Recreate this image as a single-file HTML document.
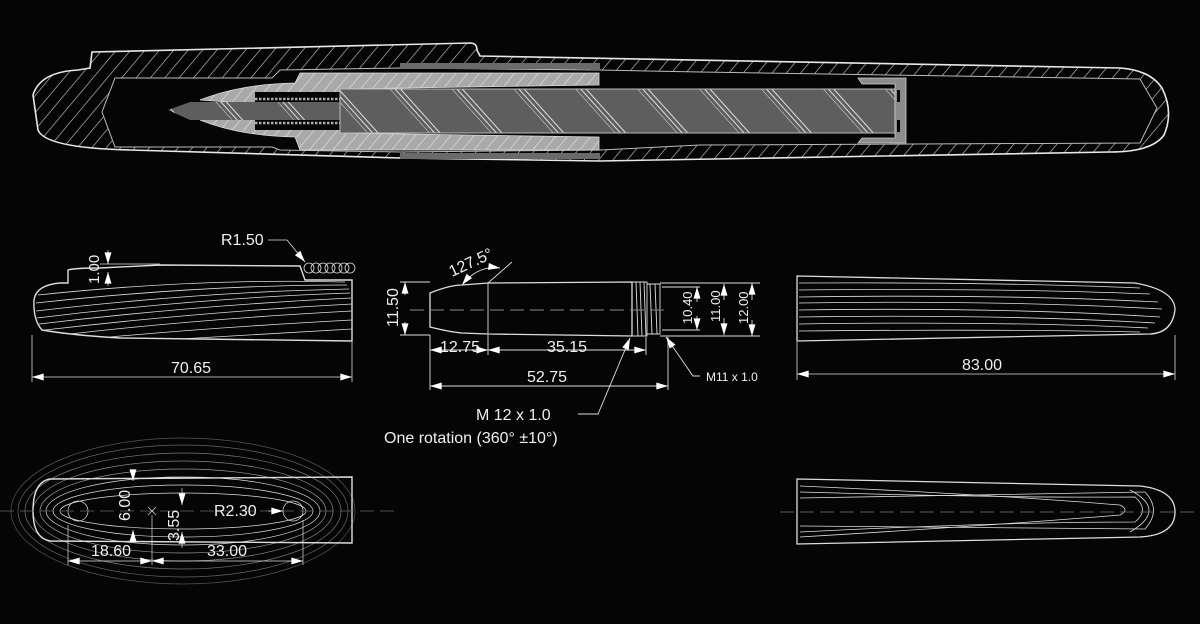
<!DOCTYPE html>
<html><head><meta charset="utf-8"><style>
html,body{margin:0;padding:0;background:#050505;}
svg{display:block}
text{font-family:"Liberation Sans",sans-serif;fill:#f0f0f0;}
</style></head><body>
<svg width="1200" height="624" viewBox="0 0 1200 624" xmlns="http://www.w3.org/2000/svg">
<defs>
<pattern id="hw" patternUnits="userSpaceOnUse" width="11" height="11" patternTransform="rotate(40)">
<rect width="11" height="11" fill="#050505"/><line x1="0" y1="0" x2="0" y2="11" stroke="#cfcfcf" stroke-width="1.2"/></pattern>
<pattern id="hg" patternUnits="userSpaceOnUse" width="9" height="9" patternTransform="rotate(40)">
<rect width="9" height="9" fill="#a9a9a9"/><line x1="0" y1="0" x2="0" y2="9" stroke="#dadada" stroke-width="1.5"/></pattern>
<pattern id="hc" patternUnits="userSpaceOnUse" width="46" height="46" patternTransform="rotate(-42)">
<rect width="46" height="46" fill="#5e5e5e"/><line x1="0" y1="0" x2="0" y2="46" stroke="#e0e0e0" stroke-width="1"/><line x1="4" y1="0" x2="4" y2="46" stroke="#e0e0e0" stroke-width="1"/><line x1="8" y1="0" x2="8" y2="46" stroke="#e0e0e0" stroke-width="1"/></pattern>
<marker id="a" viewBox="0 0 10 6" refX="10" refY="3" markerWidth="14" markerHeight="7" orient="auto-start-reverse" markerUnits="userSpaceOnUse"><path d="M0,0 L10,3 L0,6 Z" fill="#fff"/></marker>
</defs>

<!-- ===== TOP PEN SECTION ===== -->
<path d="M92,52 L470,43 Q477,43 477,50 L480,56 L1120,68 Q1150,70 1162,88 Q1174,112 1164,135 Q1152,152 1110,152 L600,161 L400,158 L130,150 Q45,148 38,130 L33,95 Q40,72 78,70 L90,68 Z" fill="url(#hw)" stroke="#e8e8e8" stroke-width="1.6"/>
<path d="M115,78 L272,78 L280,70 L400,68 L600,70 L700,72 L1140,79 L1157,108 L1140,143 L700,145 L600,150 L400,152 L280,150 L272,147 L115,147 L102,112 Z" fill="#050505" stroke="#bbb" stroke-width="1"/>
<rect x="400" y="63" width="200" height="6" fill="#6a6a6a"/>
<rect x="400" y="153" width="200" height="6" fill="#6a6a6a"/>
<path d="M200,100 Q240,84 295,83 L300,73 L599,73 L599,85 L340,89 L340,133 L599,137 L599,150 L300,150 L295,137 Q240,136 200,120 L255,116 L255,104 Z" fill="url(#hg)" stroke="#ddd" stroke-width="0.8"/>
<rect x="255" y="92" width="90" height="10" fill="#050505"/>
<rect x="255" y="120" width="90" height="10" fill="#050505"/>
<g fill="none" stroke="#aaa" stroke-width="0.8">
<line x1="255" y1="99" x2="345" y2="99" stroke-dasharray="2.5 1.5" stroke-width="2.5"/>
<line x1="255" y1="123" x2="345" y2="123" stroke-dasharray="2.5 1.5" stroke-width="2.5"/>
</g>
<path d="M168,110 L190,102 L345,102 L345,120 L190,120 Z" fill="url(#hc)"/>
<path d="M340,89 L895,89 L895,133 L340,133 Z" fill="url(#hc)" stroke="#bbb" stroke-width="1"/>
<path d="M858,78 L906,78 L906,143 L858,143 L862,138 L895,138 L895,84 L862,84 Z" fill="#8c8c8c" stroke="#ccc" stroke-width="0.8"/>
<rect x="897" y="90" width="3" height="12" fill="#050505"/><rect x="897" y="120" width="3" height="12" fill="#050505"/>

<!-- ===== GRIP SIDE VIEW ===== -->
<g fill="none" stroke="#ddd" stroke-width="0.8">
<path d="M68,270 Q75,268 100,268 L160,265 L300,266 L305,280 L352,280 L352,341 L120,338 Q70,335 42,330 Q33,320 34,300 Q36,285 60,283 L68,283 Z" stroke-width="1.4"/>
<path d="M38,295 Q200,278 345,282"/><path d="M36,303 Q200,285 347,285"/><path d="M36,311 Q200,292 349,289"/>
<path d="M37,318 Q200,298 350,293"/><path d="M39,324 Q200,305 351,298"/><path d="M45,330 Q200,312 352,304"/>
<path d="M70,334 Q200,319 352,311"/><path d="M110,337 Q220,327 352,320"/><path d="M180,339 Q260,334 352,329"/>
<circle cx="309" cy="268" r="5"/><circle cx="316" cy="268" r="5"/><circle cx="323" cy="268" r="5"/><circle cx="330" cy="268" r="5"/><circle cx="337" cy="268" r="5"/><circle cx="344" cy="268" r="5"/><circle cx="350" cy="268" r="5"/>
<line x1="32" y1="335" x2="32" y2="382"/><line x1="352" y1="342" x2="352" y2="382"/>
<line x1="32" y1="377" x2="352" y2="377" marker-start="url(#a)" marker-end="url(#a)"/>
<line x1="100" y1="264" x2="160" y2="264"/>
<polyline points="268,240 287,240 305,262" marker-end="url(#a)"/>
<line x1="108" y1="250" x2="108" y2="264" marker-end="url(#a)"/>
<line x1="108" y1="286" x2="108" y2="272" marker-end="url(#a)"/>
</g>
<text x="221" y="245" font-size="16">R1.50</text>
<text x="171" y="373" font-size="16">70.65</text>
<text transform="translate(99,284) rotate(-90)" font-size="15">1.00</text>

<!-- ===== FEED ===== -->
<g fill="none" stroke="#ddd" stroke-width="0.9">
<path d="M430,293 Q450,285 462,285 L488,283 L632,282 L632,336 L488,334 L462,333 Q450,332 430,327 Z" stroke-width="1.3"/>
<line x1="488" y1="283" x2="488" y2="334"/>
<path d="M632,282 L647,282 L647,336 L632,336"/><path d="M647,284 L660,284 L660,334 L647,334"/>
<line x1="636" y1="282" x2="638" y2="336"/><line x1="640" y1="282" x2="642" y2="336"/><line x1="644" y1="282" x2="646" y2="336"/>
<line x1="650" y1="284" x2="652" y2="334"/><line x1="655" y1="284" x2="657" y2="334"/>
<line x1="410" y1="310" x2="670" y2="310" stroke-dasharray="14 6" stroke="#888"/>
<line x1="400" y1="282" x2="430" y2="282"/><line x1="400" y1="335" x2="430" y2="335"/>
<line x1="405" y1="295" x2="405" y2="282" marker-end="url(#a)"/><line x1="405" y1="322" x2="405" y2="335" marker-end="url(#a)"/>
<line x1="430" y1="335" x2="430" y2="390"/><line x1="488" y1="335" x2="488" y2="355"/><line x1="646" y1="337" x2="646" y2="355"/><line x1="668" y1="337" x2="668" y2="390"/>
<line x1="430" y1="350" x2="488" y2="350" marker-start="url(#a)" marker-end="url(#a)"/>
<line x1="488" y1="350" x2="646" y2="350" marker-start="url(#a)" marker-end="url(#a)"/>
<line x1="430" y1="386" x2="668" y2="386" marker-start="url(#a)" marker-end="url(#a)"/>
<line x1="660" y1="283" x2="760" y2="283"/><line x1="660" y1="336" x2="760" y2="336"/>
<line x1="662" y1="287" x2="700" y2="287"/><line x1="662" y1="330" x2="700" y2="330"/>
<line x1="697" y1="302" x2="697" y2="287" marker-end="url(#a)"/><line x1="697" y1="316" x2="697" y2="330" marker-end="url(#a)"/>
<line x1="724" y1="300" x2="724" y2="284" marker-end="url(#a)"/><line x1="724" y1="318" x2="724" y2="335" marker-end="url(#a)"/>
<line x1="752" y1="300" x2="752" y2="283" marker-end="url(#a)"/><line x1="752" y1="320" x2="752" y2="336" marker-end="url(#a)"/>
<polyline points="700,376 693,376 666,337" marker-end="url(#a)"/>
<polyline points="578,414 598,414 630,338" marker-end="url(#a)"/>
<path d="M462,285 Q478,265 500,268" marker-start="url(#a)" marker-end="url(#a)"/>
<line x1="488" y1="283" x2="512" y2="262"/>
</g>
<text transform="translate(398,327) rotate(-90)" font-size="16">11.50</text>
<text x="440" y="352" font-size="16">12.75</text>
<text x="547" y="352" font-size="16">35.15</text>
<text x="527" y="382" font-size="16">52.75</text>
<text transform="translate(692,324) rotate(-90)" font-size="13">10.40</text>
<text transform="translate(720,322) rotate(-90)" font-size="13">11.00</text>
<text transform="translate(748,324) rotate(-90)" font-size="13">12.00</text>
<text x="706" y="381" font-size="12">M11 x 1.0</text>
<text x="476" y="420" font-size="16">M 12 x 1.0</text>
<text x="384" y="443" font-size="16">One rotation (360° ±10°)</text>
<text transform="translate(452,277) rotate(-25)" font-size="16">127.5°</text>

<!-- ===== RIGHT VIEWS ===== -->
<g fill="none" stroke="#ddd" stroke-width="0.8">
<path d="M797,276 L1135,283 Q1175,290 1175,310 Q1172,333 1150,334 L797,341 Z" stroke-width="1.3"/>
<path d="M799,283 Q1000,282 1140,288"/><path d="M799,290 Q1000,288 1150,294"/><path d="M799,297 Q1000,294 1158,302"/>
<path d="M799,303 Q1000,300 1162,309"/><path d="M799,310 Q1000,307 1160,317"/><path d="M799,317 Q1000,314 1155,323"/>
<path d="M799,324 Q1000,321 1148,328"/><path d="M799,331 Q1000,329 1140,332"/>
<line x1="797" y1="342" x2="797" y2="380"/><line x1="1175" y1="335" x2="1175" y2="380"/>
<line x1="797" y1="374" x2="1175" y2="374" marker-start="url(#a)" marker-end="url(#a)"/>
<path d="M797,479 L1140,486 Q1175,490 1175,512 Q1175,535 1140,537 L797,544 Z" stroke-width="1.3"/>
<path d="M800,486 Q1000,495 1120,505 Q1130,510 1120,515 Q1000,525 800,537"/>
<path d="M800,492 Q1000,498 1135,497 Q1150,510 1135,522 Q1000,522 800,532"/>
<path d="M800,498 Q1000,494 1145,492 Q1162,510 1145,529 Q1000,527 800,526"/>
<path d="M1130,490 Q1168,510 1130,532"/>
<line x1="780" y1="512" x2="1195" y2="512" stroke-dasharray="14 6" stroke="#777"/>
</g>
<text x="962" y="370" font-size="16">83.00</text>

<!-- ===== BOTTOM LEFT ===== -->
<g fill="none" stroke="#ddd" stroke-width="0.7">
<ellipse cx="183" cy="511" rx="172" ry="73" stroke="#555"/>
<ellipse cx="183" cy="511" rx="165" ry="66" stroke="#666"/>
<ellipse cx="183" cy="511" rx="158" ry="58" stroke="#777"/>
<ellipse cx="183" cy="511" rx="150" ry="50" stroke="#888"/>
<ellipse cx="183" cy="511" rx="143" ry="42" stroke="#999"/>
<ellipse cx="183" cy="511" rx="137" ry="34"/>
<ellipse cx="183" cy="511" rx="130" ry="26"/>
<ellipse cx="183" cy="511" rx="123" ry="18"/>
<path d="M50,479 L352,477 L352,543 L50,541 Q33,538 33,511 Q33,482 50,479 Z" stroke-width="1.4"/>
<circle cx="78" cy="511" r="10"/><circle cx="293" cy="511" r="10"/>
<line x1="0" y1="511" x2="395" y2="511" stroke="#666" stroke-dasharray="14 6"/>
<line x1="148" y1="507" x2="156" y2="515"/><line x1="156" y1="507" x2="148" y2="515"/>
<line x1="68" y1="525" x2="68" y2="565"/><line x1="152" y1="515" x2="152" y2="565"/><line x1="303" y1="520" x2="303" y2="565"/>
<line x1="68" y1="561" x2="152" y2="561" marker-start="url(#a)" marker-end="url(#a)"/>
<line x1="152" y1="561" x2="303" y2="561" marker-start="url(#a)" marker-end="url(#a)"/>
<line x1="133" y1="472" x2="133" y2="481" marker-end="url(#a)"/><line x1="133" y1="540" x2="133" y2="530" marker-end="url(#a)"/>
<line x1="182" y1="488" x2="182" y2="505" marker-end="url(#a)"/><line x1="182" y1="548" x2="182" y2="532" marker-end="url(#a)"/>
<line x1="268" y1="511" x2="283" y2="511" marker-end="url(#a)"/>
</g>
<text transform="translate(130,521) rotate(-90)" font-size="16">6.00</text>
<text transform="translate(179,541) rotate(-90)" font-size="16">3.55</text>
<text x="214" y="516" font-size="16">R2.30</text>
<text x="91" y="556" font-size="16">18.60</text>
<text x="207" y="556" font-size="16">33.00</text>
</svg>
</body></html>
